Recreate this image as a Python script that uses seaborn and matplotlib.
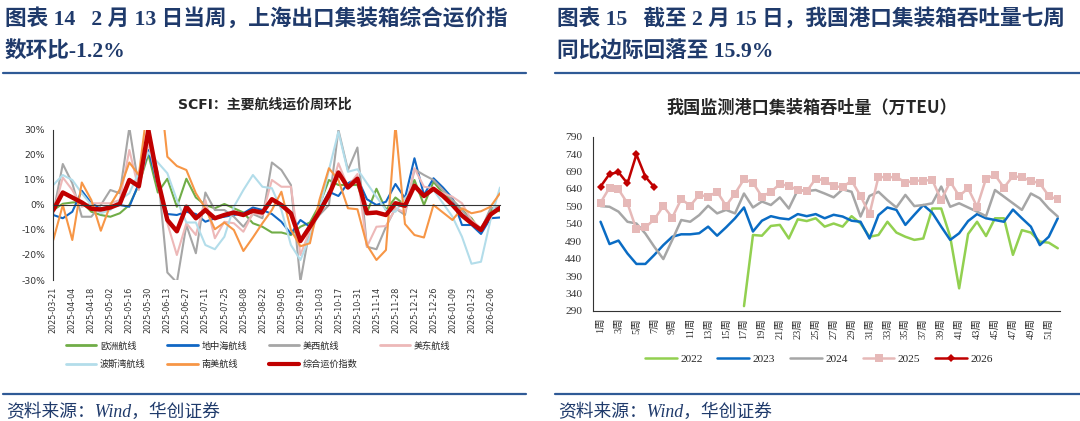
import numpy as np
import matplotlib
matplotlib.use("Agg")
import matplotlib.pyplot as plt
import seaborn as sns
from matplotlib.lines import Line2D
from matplotlib.ticker import PercentFormatter

# ---------------- left chart data: SCFI weekly change (%) ----------------
weeks = ["2025-03-21", "2025-03-28", "2025-04-04", "2025-04-11", "2025-04-18", "2025-04-25",
         "2025-05-02", "2025-05-09", "2025-05-16", "2025-05-23", "2025-05-30", "2025-06-06",
         "2025-06-13", "2025-06-20", "2025-06-27", "2025-07-04", "2025-07-11", "2025-07-18",
         "2025-07-25", "2025-08-01", "2025-08-08", "2025-08-15", "2025-08-22", "2025-08-29",
         "2025-09-05", "2025-09-12", "2025-09-19", "2025-09-26", "2025-10-03", "2025-10-10",
         "2025-10-17", "2025-10-24", "2025-10-31", "2025-11-07", "2025-11-14", "2025-11-21",
         "2025-11-28", "2025-12-05", "2025-12-12", "2025-12-19", "2025-12-26", "2026-01-02",
         "2026-01-09", "2026-01-16", "2026-01-23", "2026-01-30", "2026-02-06", "2026-02-13"]

europe = [-2, 0.5, 1, 1.2, -2.7, -4, -4.7, -3.3, 0, 8, 20.3, 5, 10.5, -0.7, 10.5, 3,
          0, -1.3, 0.4, -1.3, -3, -7.3, -8.7, -11, -11, -12, -8.7, -7, 0, 10, 8, 8,
          8, -3, 6.5, -2, 3, 0, 10, 0, 9.3, 4.7, 2, -2, -5.3, -10.7, -2, -2.5]
mediterranean = [-4, -5.3, -2.7, 5.7, 0.7, -1.3, -0.7, 0, -0.7, 8.7, 22, 8, -3.6, -4, -2.7, -3.6,
                 -6.7, -5.3, -4.7, -4, -3.3, -1, -2, -3.6, -6.7, -11.5, -6, -8.7, -2, 5.3, 3.6, 8.7,
                 10.7, 2.3, 0, 1.3, 8.4, 2.7, 18.7, 4, 10.7, 7, 2.7, -8, -8, -11.6, -5.3, -5]
us_west = [-3.3, 16.4, 8.7, -4.7, -4.7, 0, 6, 4.7, 31, 7, 25, 13, -27, -31, -8, -19.3,
           5, -2, -2, -4.7, -8.7, -3.6, -5.3, 17, 14, 8, -30.5, -9.3, -4, 0, 30, 14,
           23, -16.7, -17.7, -8.7, -1.3, -4, 14.3, 12, 10, 6, 2, -2, -6.7, -10, -1.3, -0.7]
us_east = [-3.3, 11, 6, -0.7, 0.7, 0.7, 0.7, 2, 22, 6, 25, 8, -7.3, -20, -7.3, -12,
           2, -13.3, -6.7, -7.3, -10.7, -3.3, -4, 10, 7.3, 7.3, -20, -10, -3.3, 3.3, 16.7, 7.3,
           12.4, -16.7, -8.7, -8.4, -1.3, -3, 14.7, 7.3, 6.7, 4.7, 3.3, 0.7, -6, -9.3, -3.3, -1.3]
persian_gulf = [8, 12, 10, 4.7, 0, -3.3, -2, 2, 4.7, 13, 21, 17, 12.7, 2, -7, -7,
                -16, -17.7, -12.7, -0.7, 6, 12, 7.3, 6.7, -2, -16, -22, -12.7, -2, 14, 29.3, 13.3,
                14.3, 8.7, 3.3, -2, -2.7, 2.7, 7.3, 4, 6, 0.7, -4.7, -12.7, -23.5, -22.7, -6, 7]
south_america = [-14, 0, -14, 9, 2, -10.3, 0, 6.3, 17, 12, 42, 55, 19.3, 15.6, 14, 4.7,
                 -1.3, -9.7, -7, -10, -18.4, -13, -7.3, -2, 5.3, -10, -16.5, -15.3, 2, 14.7, 10, -1.3,
                 -1.7, -16, -22, -18, 32, -7.6, -12, -13, 0, -3, -6, -1.3, -3.3, -2.5, -0.7, 4.7]
composite = [-2, 5, 3, 1, -1.5, -1.8, -1, 0.5, 10, 7.5, 30, 10, -6, -10.5, -0.7, -5.3,
             -2, -5.3, -4, -3, -4, -2.3, -3, 2.3, 0, -3.3, -14.4, -8.7, -2.7, 4, 13, 7,
             10.5, -3.3, -3, -4, 0.7, -0.3, 7.7, 3.6, 6.5, 3.6, 0, -4.2, -7.3, -10, -3.8, -1.2]

left_names = ["欧洲航线", "地中海航线", "美西航线", "美东航线", "波斯湾航线", "南美航线", "综合运价指数"]
left_values = [europe, mediterranean, us_west, us_east, persian_gulf, south_america, composite]
left_colors = ["#70AD47", "#1167C4", "#A6A6A6", "#EDB8B8", "#B3DDEA", "#F79646", "#C00000"]
left_widths = [1.5, 1.5, 1.5, 1.5, 1.5, 1.5, 3.2]

# ---------------- right chart data: port container throughput (10k TEU) ----------------
week_nums = list(range(1, 53))
week_labels = [f"{w}周" if w % 2 == 1 else "" for w in week_nums]
y_ticks_right = list(range(290, 791, 50))

y2022 = [np.nan] * 16 + [304, 508, 506, 534, 537, 498, 553, 548, 556, 532, 541, 532, 562, 541,
                         503, 508, 546, 515, 503, 494, 498, 584, 584, 503, 355, 511, 546, 505,
                         556, 556, 451, 522, 515, 489, 486, 470]
y2023 = [546, 482, 492, 455, 425, 425, 451, 479, 503, 510, 510, 513, 532, 506, 530, 556,
         587, 518, 549, 562, 556, 553, 568, 562, 568, 556, 566, 561, 549, 546, 498, 565,
         587, 580, 537, 566, 594, 572, 532, 494, 513, 548, 568, 556, 551, 546, 581, 556,
         532, 479, 503, 556]
y2024 = [591, 589, 575, 546, 541, 512, 474, 439, 494, 551, 546, 565, 592, 570, 580, 570,
         627, 587, 604, 594, 616, 584, 637, 634, 637, 627, 616, 639, 632, 561, 620, 632,
         608, 587, 623, 591, 594, 599, 647, 589, 599, 587, 575, 562, 637, 618, 599, 580,
         627, 613, 584, 561]
y2025 = [601, 644, 639, 599, 524, 530, 553, 591, 558, 611, 592, 623, 618, 632, 592, 627,
         668, 658, 618, 632, 654, 649, 637, 633, 670, 664, 648, 645, 664, 620, 568, 675,
         673, 675, 658, 664, 664, 666, 608, 661, 620, 642, 589, 670, 680, 644, 677, 673,
         664, 656, 620, 610]
y2026 = [647, 683, 688, 656, 739, 675, 645]

year_names = ["2022", "2023", "2024", "2025", "2026"]
year_values = [y2022, y2023, y2024, y2025, y2026]
year_colors = ["#92D050", "#0A6CC4", "#A6A6A6", "#E6B9B8", "#C00000"]
year_markers = [None, None, None, "s", "D"]
year_msize = [0, 0, 0, 5.8, 4.5]

# ---------------- styling ----------------
sns.set_style("white")
SANS_CJK = ["DejaVu Sans", "Noto Sans CJK SC"]
SERIF_CJK = ["Liberation Serif", "Noto Sans CJK SC"]
plt.rcParams["font.family"] = SANS_CJK
plt.rcParams["axes.unicode_minus"] = False

W, H = 1080, 421
fig = plt.figure(figsize=(W / 100, H / 100), dpi=100)
fig.patch.set_facecolor("white")


def rect(l, t, r, b):
    return [l / W, 1 - b / H, (r - l) / W, (b - t) / H]


NAVY = "#1F3A6B"
RULE = "#2F5A96"

# headers
hdr = dict(fontsize=15.6, weight="bold", family=SERIF_CJK, color=NAVY, ha="left", va="center")
fig.text(5 / W, 1 - 19 / H, "图表 14   2 月 13 日当周，上海出口集装箱综合运价指", **hdr)
fig.text(5 / W, 1 - 51 / H, "数环比-1.2%", **hdr)
fig.text(557 / W, 1 - 19 / H, "图表 15   截至 2 月 15 日，我国港口集装箱吞吐量七周", **hdr)
fig.text(557 / W, 1 - 52 / H, "同比边际回落至 15.9%", **hdr)

for x0, x1 in [(3, 526), (555, 1080)]:
    for yy in (73.3, 393.7):
        fig.add_artist(Line2D([x0 / W, x1 / W], [1 - yy / H] * 2, color=RULE, lw=1.6,
                              transform=fig.transFigure))

src = dict(fontsize=12.8, style="italic", family=SERIF_CJK, color=NAVY, ha="left", va="center")
fig.text(6 / W, 1 - 412 / H, "资料来源：Wind，华创证券", **src)
fig.text(558 / W, 1 - 412 / H, "资料来源：Wind，华创证券", **src)

# ---------------- left chart ----------------
fig.text(265 / W, 1 - 105 / H, "SCFI：主要航线运价周环比", ha="center", va="center",
         fontsize=10, weight="bold", family=SANS_CJK, color="#262626")

ax1 = fig.add_axes(rect(53.3, 130, 500, 280))
x_idx = np.arange(len(weeks))
for name, vals, col, lw in zip(left_names, left_values, left_colors, left_widths):
    sns.lineplot(x=x_idx, y=vals, ax=ax1, color=col, linewidth=lw, legend=False)

ax1.set_xlim(0, len(weeks) - 1)
ax1.set_ylim(-30, 30)
ax1.set_yticks(range(-30, 31, 10))
ax1.yaxis.set_major_formatter(PercentFormatter(100, decimals=0))
ax1.set_xlabel("")
ax1.set_ylabel("")
for s in ("top", "right"):
    ax1.spines[s].set_visible(False)
ax1.spines["left"].set_color("#333333")
ax1.spines["left"].set_linewidth(0.8)
ax1.spines["bottom"].set_position(("data", 0))
ax1.spines["bottom"].set_color("#333333")
ax1.spines["bottom"].set_linewidth(0.8)
ax1.set_xticks(x_idx[::2])
ax1.tick_params(axis="x", length=3, width=0.8, direction="out", color="#333333", labelbottom=False)
ax1.tick_params(axis="y", length=3, width=0.8, direction="out", color="#333333",
                labelsize=6.7, pad=3, labelcolor="#333333")
sec = ax1.secondary_xaxis("bottom")
sec.set_xticks(x_idx[::2], labels=weeks[::2], rotation=90, fontsize=5.8, color="#333333")
sec.tick_params(length=0, pad=5)
sec.spines["bottom"].set_visible(False)

order = [0, 4, 1, 5, 2, 6, 3]
h1 = [Line2D([], [], color=left_colors[i], lw=(3.0 if i == 6 else 2.0)) for i in order]
fig.legend(h1, [left_names[i] for i in order], loc="center", bbox_to_anchor=(258 / W, 1 - 355 / H),
           ncol=4, frameon=False, prop=dict(family=SANS_CJK, size=6.6), handlelength=3.3,
           handletextpad=0.4, columnspacing=2.4, labelspacing=1.0, borderpad=0)

# ---------------- right chart ----------------
fig.text(812 / W, 1 - 108 / H, "我国监测港口集装箱吞吐量（万TEU）", ha="center", va="center",
         fontsize=12.3, weight="bold", family=["Noto Sans CJK SC"], color="#262626")

ax2 = fig.add_axes(rect(593.3, 136.7, 1060, 311))
for name, vals, col, mk, ms in zip(year_names, year_values, year_colors, year_markers, year_msize):
    xs = week_nums[:len(vals)]
    if mk:
        sns.lineplot(x=xs, y=vals, ax=ax2, color=col, linewidth=1.8, marker=mk, markersize=ms,
                     markeredgewidth=0, legend=False)
    else:
        sns.lineplot(x=xs, y=vals, ax=ax2, color=col, linewidth=1.8, legend=False)

ax2.set_xlim(0.19, 52.25)
ax2.set_ylim(290, 790)
ax2.set_xlabel("")
ax2.set_ylabel("")
ax2.set_yticks(y_ticks_right, labels=[str(v) for v in y_ticks_right], family="Liberation Serif",
               fontsize=8.2, color="#333333")
ax2.set_xticks(week_nums, labels=week_labels, rotation=90, fontsize=7.5, family=SERIF_CJK,
               color="#333333")
for s in ("top", "right"):
    ax2.spines[s].set_visible(False)
for s in ("left", "bottom"):
    ax2.spines[s].set_color("#333333")
    ax2.spines[s].set_linewidth(0.8)
ax2.tick_params(axis="both", length=3, width=0.8, direction="out", color="#333333")
ax2.tick_params(axis="y", pad=5)
ax2.tick_params(axis="x", pad=2)

h2 = [Line2D([], [], color=c, lw=1.8, marker=m, markersize=ms, markeredgewidth=0)
      for c, m, ms in zip(year_colors, year_markers, year_msize)]
fig.legend(h2, year_names, loc="center", bbox_to_anchor=(819 / W, 1 - 359 / H), ncol=5,
           frameon=False, prop=dict(family="Liberation Serif", size=8.2), handlelength=2.8,
           handletextpad=0.3, columnspacing=1.3, borderpad=0)

fig.savefig("out.png", dpi=100, facecolor="white")
